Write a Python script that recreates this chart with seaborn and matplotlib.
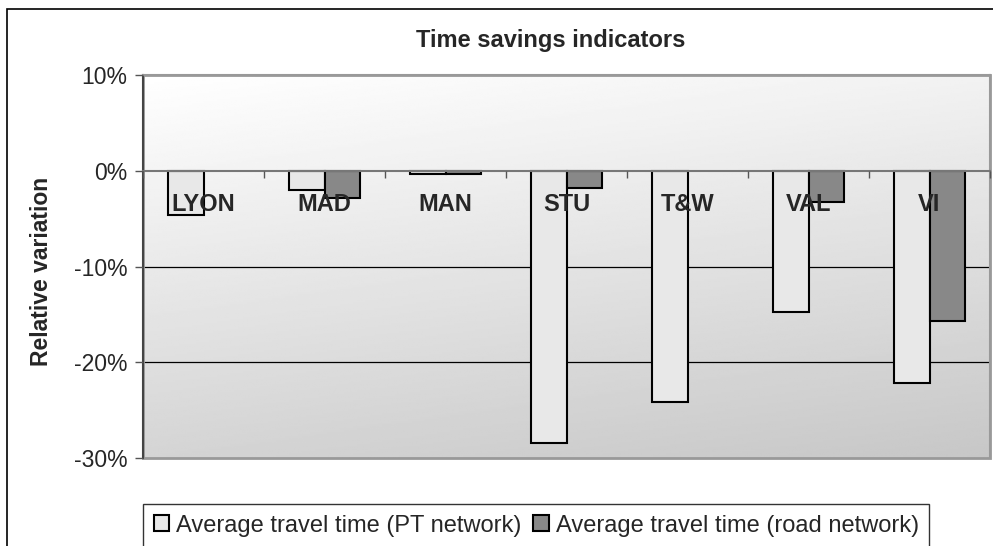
import matplotlib
matplotlib.use("Agg")
import matplotlib.pyplot as plt
import numpy as np
import pandas as pd
import seaborn as sns
from matplotlib.patches import Rectangle
from matplotlib.ticker import FixedLocator

# values (relative variation, %)
cities = ['LYON', 'MAD', 'MAN', 'STU', 'T&W', 'VAL', 'VI']
pt_network = [-4.6, -2.0, -0.35, -28.4, -24.1, -14.8, -22.2]
road_network = [np.nan, -2.8, -0.35, -1.85, np.nan, -3.3, -15.7]
series_names = ['Average travel time (PT network)', 'Average travel time (road network)']
yticks = [10, 0, -10, -20, -30]

df = pd.DataFrame({'City': cities * 2,
                   'Series': [series_names[0]] * 7 + [series_names[1]] * 7,
                   'Value': pt_network + road_network})

sns.set_style('white')
plt.rcParams['font.family'] = ['Liberation Sans', 'DejaVu Sans']

W, H = 993, 546
fig = plt.figure(figsize=(W / 100, H / 100), dpi=100)
ax = fig.add_axes([143 / W, 1 - 458 / H, (990 - 143) / W, (458 - 75) / H])

# gradient background of the plot area
gy, gx = np.mgrid[0:1:200j, 0:1:200j]
shade = 0.8 * gy + 0.25 * gx
ax.imshow(1 - 0.22 * shade / shade.max(), cmap='gray', vmin=0, vmax=1,
          extent=[-0.5, 6.5, -30, 10], aspect='auto', zorder=0.1)

# gridlines behind the bars (axis itself stays on top so labels overlay bars)
for t in yticks[2:-1]:
    ax.axhline(t, color='black', linewidth=0.9, zorder=0.5)

sns.barplot(data=df, x='City', y='Value', hue='Series', order=cities,
            hue_order=series_names, palette=['#e8e8e8', '#888888'],
            width=0.59, edgecolor='black', linewidth=1.5, ax=ax, zorder=1)
ax.set_axisbelow(False)

ax.set_xlim(-0.5, 6.5)
ax.set_ylim(-30, 10)
ax.set_yticks(yticks)
ax.set_yticklabels([f'{t}%' for t in yticks], fontsize=16.5)
ax.tick_params(axis='y', direction='out', length=6, width=1, color='#555555', pad=5, left=True)

ax.spines['bottom'].set_position(('data', 0))
ax.spines['bottom'].set_color('#777777')
ax.spines['bottom'].set_linewidth(1.5)
ax.spines['left'].set_color('#444444')
ax.spines['left'].set_linewidth(1.5)
for s in ['top', 'right']:
    ax.spines[s].set_color('#999999')
    ax.spines[s].set_linewidth(1.5)
ax.add_patch(Rectangle((0, 0), 1, 1, transform=ax.transAxes, fill=False,
                       edgecolor='#999999', linewidth=2, zorder=2.4, clip_on=False))

ax.set_xticks(range(len(cities)))
ax.set_xticklabels(cities, fontsize=17, fontweight='bold')
ax.tick_params(axis='x', which='major', length=0, pad=16)
ax.xaxis.set_minor_locator(FixedLocator(np.arange(-0.5, 7, 1)))
ax.tick_params(axis='x', which='minor', direction='out', length=5, width=1, color='#555555', bottom=True)
ax.set_xlabel('')
ax.set_ylabel('')

fig.text(551 / W, 1 - 40 / H, 'Time savings indicators', ha='center', va='center',
         fontsize=17, fontweight='bold')
fig.text(42 / W, 1 - 271 / H, 'Relative variation', ha='center', va='center',
         rotation=90, fontsize=16.5, fontweight='bold')

handles, labels = ax.get_legend_handles_labels()
ax.get_legend().remove()
leg = fig.legend(handles, labels, ncol=2, loc='upper left',
                 bbox_to_anchor=(143 / W, 1 - 504 / H), frameon=True, fancybox=False,
                 edgecolor='black', fontsize=17, handlelength=0.65, handleheight=0.65,
                 handletextpad=0.3, columnspacing=0.5, borderaxespad=0, borderpad=0.45)
leg.get_frame().set_linewidth(1)

# outer chart border (cut off at right and bottom)
fig.add_artist(Rectangle((7 / W, -0.1), 1.2, 1 - 9 / H + 0.1, transform=fig.transFigure,
                         fill=False, edgecolor='black', linewidth=1.2))

fig.savefig('out.png', dpi=100)
